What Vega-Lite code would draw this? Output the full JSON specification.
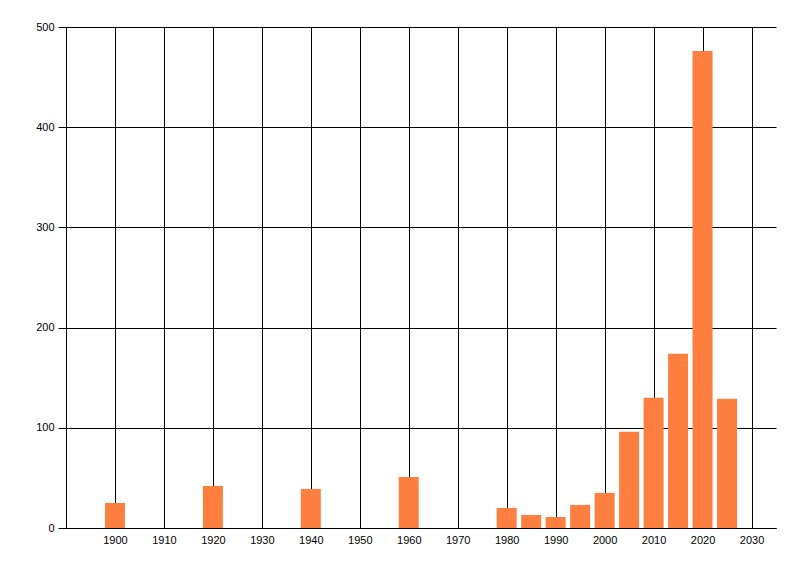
{
  "$schema": "https://vega.github.io/schema/vega-lite/v6.json",
  "width": 710,
  "height": 501,
  "autosize": "none",
  "padding": {"left": 66, "top": 27, "right": 24, "bottom": 48},
  "background": "white",
  "data": {
    "values": [
      {"year": 1900, "count": 25},
      {"year": 1920, "count": 42},
      {"year": 1940, "count": 39},
      {"year": 1960, "count": 51},
      {"year": 1980, "count": 20},
      {"year": 1985, "count": 13},
      {"year": 1990, "count": 11},
      {"year": 1995, "count": 23},
      {"year": 2000, "count": 35},
      {"year": 2005, "count": 96},
      {"year": 2010, "count": 130},
      {"year": 2015, "count": 174},
      {"year": 2020, "count": 476},
      {"year": 2025, "count": 129}
    ]
  },
  "mark": {"type": "bar", "size": 20, "color": "#FF7F40"},
  "encoding": {
    "x": {
      "field": "year",
      "type": "quantitative",
      "scale": {"domain": [1890, 2035], "nice": false, "zero": false, "padding": 0},
      "axis": {
        "title": null,
        "values": [1900, 1910, 1920, 1930, 1940, 1950, 1960, 1970, 1980, 1990, 2000, 2010, 2020, 2030],
        "format": "d",
        "ticks": false,
        "labelPadding": 6
      }
    },
    "y": {
      "field": "count",
      "type": "quantitative",
      "scale": {"domain": [0, 500], "nice": false, "padding": 0},
      "axis": {
        "title": null,
        "values": [0, 100, 200, 300, 400, 500],
        "tickSize": 8,
        "labelPadding": 4
      }
    }
  },
  "config": {
    "view": {"stroke": null},
    "axis": {
      "grid": true,
      "gridColor": "black",
      "gridOpacity": 1,
      "gridWidth": 1,
      "domainColor": "black",
      "domainWidth": 1,
      "tickColor": "black",
      "labelColor": "black",
      "labelFont": "Liberation Sans",
      "labelFontSize": 11
    }
  }
}
